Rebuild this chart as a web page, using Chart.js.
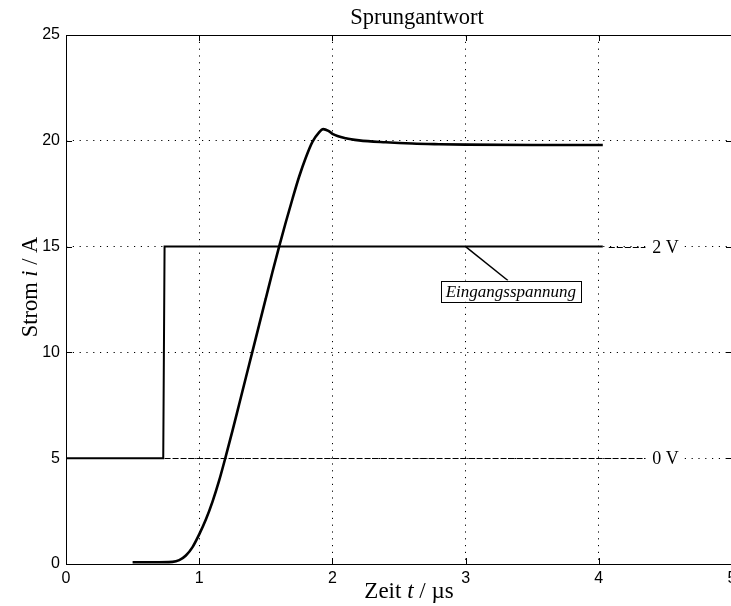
<!DOCTYPE html>
<html>
<head>
<meta charset="utf-8">
<script src="https://cdn.jsdelivr.net/npm/chart.js@4/dist/chart.umd.min.js"></script>
<style>
  html, body { margin: 0; padding: 0; background: #fff; overflow: hidden; }
  #wrap { position: relative; width: 745px; height: 606px; }
</style>
</head>
<body>
<div id="wrap"><canvas id="sprung" width="745" height="606"></canvas></div>
<script>
// Sprungantwort: Strom i (A) über Zeit t (µs)
const zeit  = [0.5, 0.65, 0.8, 0.85, 0.9, 0.95, 1.0, 1.05, 1.1, 1.15, 1.2, 1.25, 1.3, 1.35, 1.4, 1.45, 1.5, 1.55, 1.6, 1.65, 1.7, 1.75, 1.8, 1.85, 1.9, 1.93, 1.97, 2.0, 2.1, 2.2, 2.4, 2.6, 2.8, 3.0, 3.5, 4.03];
const strom = [0.08, 0.08, 0.1, 0.18, 0.4, 0.8, 1.4, 2.1, 2.95, 3.95, 5.1, 6.3, 7.55, 8.8, 10.05, 11.3, 12.55, 13.8, 15.0, 16.15, 17.25, 18.3, 19.2, 19.95, 20.4, 20.55, 20.47, 20.33, 20.12, 20.02, 19.93, 19.87, 19.84, 19.82, 19.8, 19.8];

// Eingangsspannung (als Strompegel dargestellt)
const eingangZeit  = [0, 0.73, 0.74, 4.03];
const eingangPegel = [5, 5, 15, 15];

// Spannungspegel-Markierungen
const pegelNamen = ['0 V', '2 V'];
const pegelWerte = [5, 15];
const pegelStart = [0.74, 4.03];

const xTicks = [0, 1, 2, 3, 4, 5];
const yTicks = [0, 5, 10, 15, 20, 25];

const serif = '"Liberation Serif", "DejaVu Serif", serif';
const sans = '"Liberation Sans", Arial, sans-serif';

function pts(xs, ys) {
  return xs.map((x, i) => ({ x: x, y: ys[i] }));
}

function mixedText(ctx, parts, x, y, size) {
  // parts: [text, italic]
  let total = 0;
  parts.forEach(p => {
    ctx.font = (p[1] ? 'italic ' : '') + size + 'px ' + serif;
    total += ctx.measureText(p[0]).width;
  });
  let cx = x - total / 2;
  ctx.textAlign = 'left';
  parts.forEach(p => {
    ctx.font = (p[1] ? 'italic ' : '') + size + 'px ' + serif;
    ctx.fillText(p[0], cx, y);
    cx += ctx.measureText(p[0]).width;
  });
}

const extras = {
  id: 'extras',
  afterDatasetsDraw(chart) {
    const ctx = chart.ctx, xs = chart.scales.x, ys = chart.scales.y;
    ctx.save();
    // gestrichelte Pegellinien + Beschriftung
    pegelWerte.forEach((v, i) => {
      const py = Math.round(ys.getPixelForValue(v)) + 0.5;
      ctx.strokeStyle = '#000';
      ctx.lineWidth = 1;
      ctx.setLineDash([6, 2]);
      ctx.beginPath();
      ctx.moveTo(xs.getPixelForValue(pegelStart[i]) + (i === 1 ? 6 : 0), py);
      ctx.lineTo(xs.getPixelForValue(4.35), py);
      ctx.stroke();
      ctx.setLineDash([]);
      const lx = xs.getPixelForValue(4.5);
      ctx.fillStyle = '#fff';
      ctx.fillRect(lx - 18, py - 8, 36, 16);
      ctx.fillStyle = '#000';
      ctx.font = '18px ' + serif;
      ctx.textAlign = 'center';
      ctx.textBaseline = 'middle';
      ctx.fillText(pegelNamen[i], lx, py + 1);
    });
    // Annotation "Eingangsspannung"
    const ax = xs.getPixelForValue(3.0), ay = ys.getPixelForValue(15);
    const bx = xs.getPixelForValue(3.34), by = ys.getPixelForValue(12.9);
    const bw = 140, bh = 21;
    ctx.strokeStyle = '#000';
    ctx.lineWidth = 1.5;
    ctx.beginPath();
    ctx.moveTo(ax, ay);
    ctx.lineTo(bx - 3, by - bh / 2);
    ctx.stroke();
    ctx.fillStyle = '#fff';
    ctx.fillRect(bx - bw / 2, by - bh / 2, bw, bh);
    ctx.lineWidth = 1;
    ctx.strokeRect(Math.round(bx - bw / 2) + 0.5, Math.round(by - bh / 2) + 0.5, bw, bh);
    ctx.fillStyle = '#000';
    ctx.font = 'italic 17px ' + serif;
    ctx.textAlign = 'center';
    ctx.textBaseline = 'middle';
    ctx.fillText('Eingangsspannung', bx, by + 1);
    ctx.restore();
  },
  afterDraw(chart) {
    const ctx = chart.ctx, a = chart.chartArea, xs = chart.scales.x, ys = chart.scales.y;
    ctx.save();
    ctx.strokeStyle = '#000';
    ctx.lineWidth = 1;
    ctx.setLineDash([]);
    // Rahmen
    ctx.strokeRect(Math.round(a.left) + 0.5, Math.round(a.top) + 0.5,
                   Math.round(a.right - a.left), Math.round(a.bottom - a.top));
    // Ticks nach innen
    const tl = 6;
    ctx.beginPath();
    xTicks.forEach(v => {
      const px = Math.round(xs.getPixelForValue(v)) + 0.5;
      ctx.moveTo(px, a.bottom); ctx.lineTo(px, a.bottom - tl);
      ctx.moveTo(px, a.top); ctx.lineTo(px, a.top + tl);
    });
    yTicks.forEach(v => {
      const py = Math.round(ys.getPixelForValue(v)) + 0.5;
      ctx.moveTo(a.left, py); ctx.lineTo(a.left + tl, py);
      ctx.moveTo(a.right, py); ctx.lineTo(a.right - tl, py);
    });
    ctx.stroke();
    // Titel und Achsenbeschriftungen
    ctx.fillStyle = '#000';
    ctx.textBaseline = 'alphabetic';
    mixedText(ctx, [['Sprungantwort', false]], 417, 24, 22.5);
    mixedText(ctx, [['Zeit ', false], ['t', true], [' / µs', false]], 409, 598, 23);
    ctx.translate(37, 287);
    ctx.rotate(-Math.PI / 2);
    mixedText(ctx, [['Strom ', false], ['i', true], [' / A', false]], 0, 0, 22.5);
    ctx.restore();
  }
};

const gridColor = (max) => (c) => (c.tick && c.tick.value > 0 && c.tick.value < max) ? '#000' : 'rgba(0,0,0,0)';

new Chart(document.getElementById('sprung'), {
  type: 'line',
  data: {
    datasets: [
      {
        label: 'Strom',
        data: pts(zeit, strom),
        borderColor: '#000',
        borderWidth: 2.6,
        pointRadius: 0,
        cubicInterpolationMode: 'monotone',
        fill: false
      },
      {
        label: 'Eingangsspannung',
        data: pts(eingangZeit, eingangPegel),
        borderColor: '#000',
        borderWidth: 2,
        pointRadius: 0,
        tension: 0,
        fill: false
      }
    ]
  },
  options: {
    responsive: false,
    animation: false,
    devicePixelRatio: 1,
    layout: { padding: { top: 35, right: 13, left: 0, bottom: 0 } },
    plugins: { legend: { display: false }, tooltip: { enabled: false }, title: { display: false } },
    scales: {
      x: {
        type: 'linear',
        min: 0, max: 5,
        afterFit: (s) => { s.height = 42; },
        afterBuildTicks: (s) => { s.ticks = xTicks.map(v => ({ value: v })); },
        ticks: { color: '#000', font: { family: sans, size: 16 }, padding: 5, maxRotation: 0 },
        grid: { color: gridColor(5), lineWidth: 1, drawTicks: false },
        border: { display: false, dash: [1.2, 5.6] }
      },
      y: {
        type: 'linear',
        min: 0, max: 25,
        afterFit: (s) => { s.width = 66; },
        afterBuildTicks: (s) => { s.ticks = yTicks.map(v => ({ value: v })); },
        ticks: { color: '#000', font: { family: sans, size: 16 }, padding: 6 },
        grid: { color: gridColor(25), lineWidth: 1, drawTicks: false },
        border: { display: false, dash: [1.2, 5.6] }
      }
    }
  },
  plugins: [extras]
});
</script>
</body>
</html>
